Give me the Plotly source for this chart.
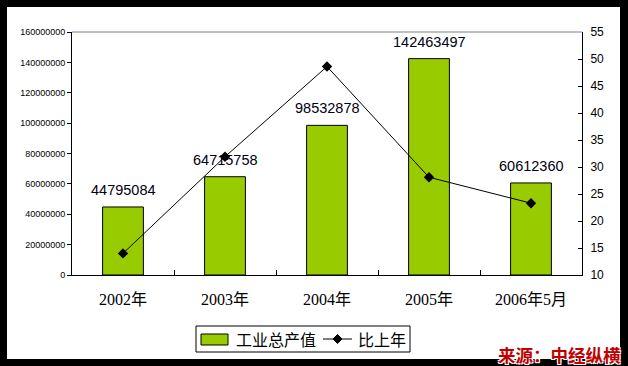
import plotly.graph_objects as go

categories = ["2002年", "2003年", "2004年", "2005年", "2006年5月"]
output_values = [44795084, 64715758, 98532878, 142463497, 60612360]
growth_values = [14.0, 31.9, 48.6, 28.1, 23.3]
left_ticks = list(range(0, 160000001, 20000000))
right_ticks = list(range(10, 56, 5))
series_names = ["工业总产值", "比上年"]

W, H = 628, 366
L, R, T, B = 72, 46, 32, 91
pw, ph = W - L - R, H - T - B

def px(x):
    return (x - L) / pw

def py(y):
    return (H - B - y) / ph

fig = go.Figure()
fig.add_trace(go.Bar(
    x=categories, y=output_values, name=series_names[0],
    marker=dict(color="#99CC00", line=dict(color="black", width=1)),
    width=0.4, yaxis="y", showlegend=False,
))
fig.add_trace(go.Scatter(
    x=categories, y=growth_values, name=series_names[1], mode="lines+markers",
    line=dict(color="black", width=1),
    marker=dict(symbol="diamond", size=8, color="black"),
    yaxis="y2", showlegend=False,
))

for c, v in zip(categories, output_values):
    fig.add_annotation(x=c, y=v, xref="x", yref="y", text=str(v), showarrow=False,
                       yshift=17, font=dict(family="Arial, Liberation Sans", size=14.5, color="#000010"))

# white background panel
fig.add_shape(type="rect", xref="paper", yref="paper", x0=px(7), x1=px(620), y0=py(359), y1=py(7),
              fillcolor="white", line=dict(width=0), layer="below")
# top border of plot area (gray)
fig.add_shape(type="line", xref="paper", yref="paper", x0=0, x1=1, y0=1, y1=1,
              line=dict(color="#808080", width=1))

# manual legend
fig.add_shape(type="rect", xref="paper", yref="paper", x0=px(196), x1=px(410), y0=py(352), y1=py(326),
              fillcolor="white", line=dict(color="black", width=1))
fig.add_shape(type="rect", xref="paper", yref="paper", x0=px(201), x1=px(228), y0=py(345), y1=py(334),
              fillcolor="#99CC00", line=dict(color="black", width=1))
fig.add_annotation(xref="paper", yref="paper", x=px(234), y=py(339), xanchor="left", yanchor="middle",
                   text=series_names[0], showarrow=False,
                   font=dict(family="Noto Sans CJK SC", size=16, color="black"))
fig.add_shape(type="line", xref="paper", yref="paper", x0=px(323), x1=px(352), y0=py(339), y1=py(339),
              line=dict(color="black", width=1))
cx, cy, d = 337.5, 339, 4.5
fig.add_shape(type="path", xref="paper", yref="paper",
              path=f"M {px(cx)} {py(cy-d)} L {px(cx+d)} {py(cy)} L {px(cx)} {py(cy+d)} L {px(cx-d)} {py(cy)} Z",
              fillcolor="black", line=dict(color="black", width=1))
fig.add_annotation(xref="paper", yref="paper", x=px(356), y=py(339), xanchor="left", yanchor="middle",
                   text=series_names[1], showarrow=False,
                   font=dict(family="Noto Sans CJK SC", size=16, color="black"))

fig.add_annotation(xref="paper", yref="paper", x=px(623), y=py(354), xanchor="right", yanchor="middle",
                   text="<b>来源：中经纵横</b>", showarrow=False,
                   font=dict(family="Noto Sans CJK SC", size=17.5, color="#C00000",
                             shadow="1px 1px 0 white, -1px -1px 0 white, 1px -1px 0 white, -1px 1px 0 white"))

fig.update_layout(
    width=W, height=H,
    margin=dict(l=L, r=R, t=T, b=B, autoexpand=False),
    paper_bgcolor="black", plot_bgcolor="white",
    showlegend=False,
    xaxis=dict(showline=True, linecolor="black", linewidth=1, mirror=False,
               ticks="inside", ticklen=5, tickcolor="black", tickson="boundaries",
               ticklabelstandoff=10,
               tickfont=dict(family="Liberation Serif, Noto Sans CJK SC", size=16, color="black"),
               showgrid=False, range=[-0.5, 4.5], automargin=False),
    yaxis=dict(range=[0, 160000000], tickvals=left_ticks, ticktext=[str(t) for t in left_ticks],
               showline=True, linecolor="black", linewidth=1, ticks="outside", ticklen=4,
               tickcolor="black", showgrid=False, zeroline=False, automargin=False,
               tickfont=dict(family="Arial, Liberation Sans", size=9, color="black")),
    yaxis2=dict(range=[10, 55], tickvals=right_ticks, overlaying="y", side="right",
                showline=True, linecolor="black", linewidth=1, ticks="inside", ticklen=4,
                tickcolor="black", showgrid=False, zeroline=False, automargin=False,
                ticklabelstandoff=5,
                tickfont=dict(family="Arial, Liberation Sans", size=12, color="black")),
    bargap=0.6,
)

fig.write_html("out.html")
